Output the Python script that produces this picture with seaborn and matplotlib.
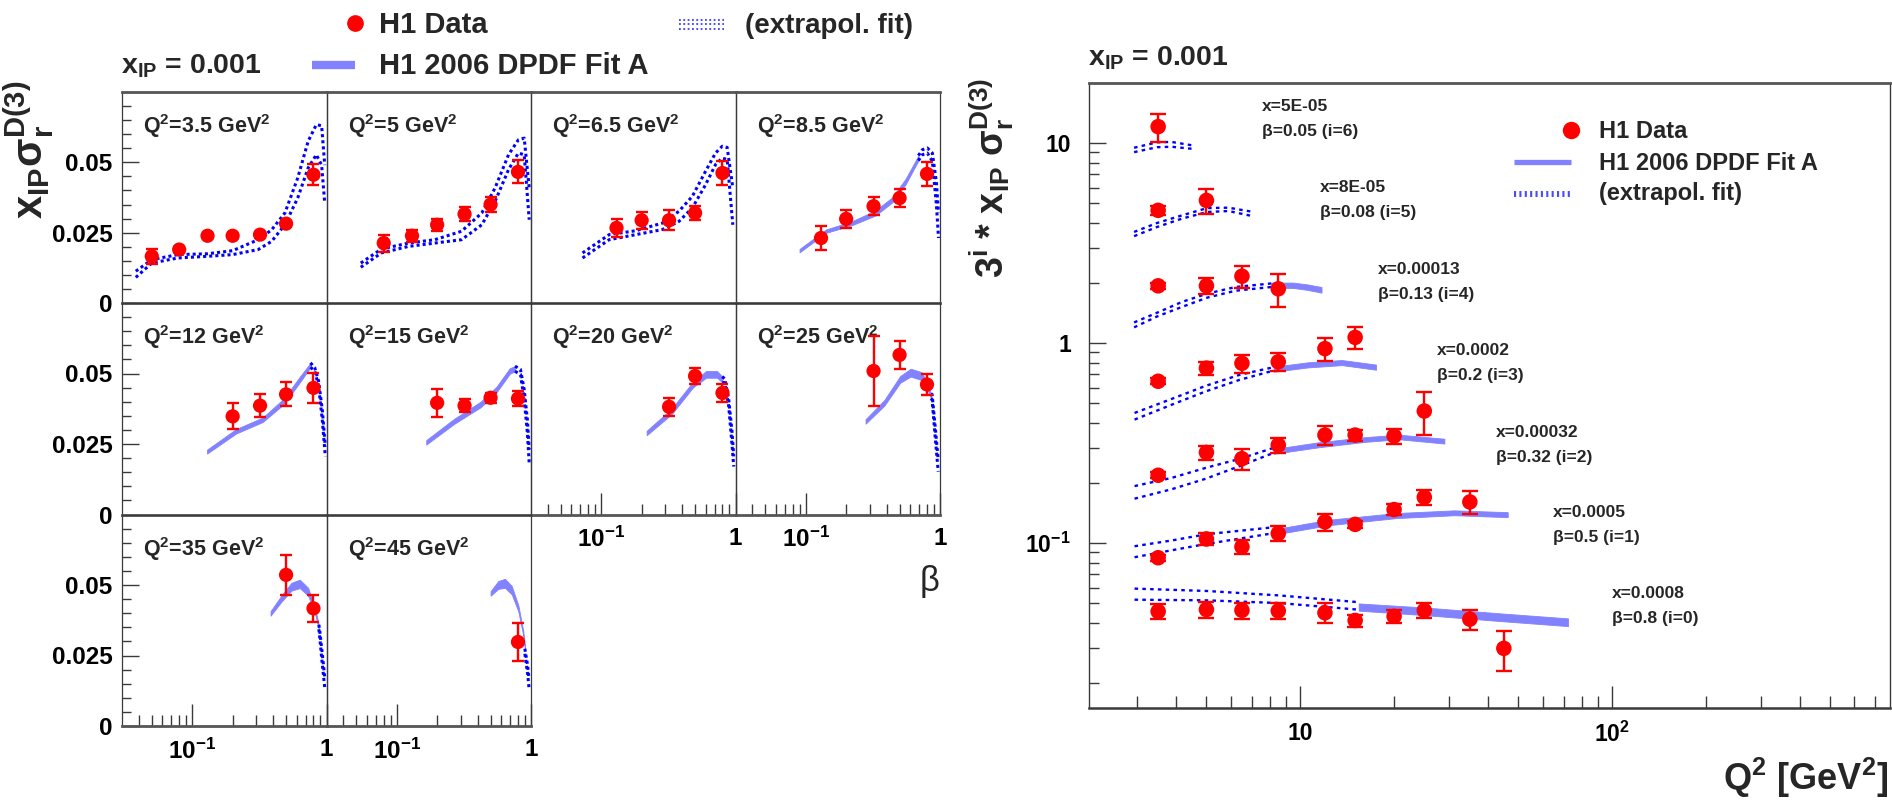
import matplotlib
matplotlib.use("Agg")
import numpy as np
import pandas as pd
import matplotlib.pyplot as plt
import seaborn as sns
from matplotlib.lines import Line2D
from matplotlib.ticker import FixedLocator, FixedFormatter, NullFormatter, NullLocator

# ---------------------------------------------------------------- data
# H1 reduced diffractive cross section x_IP * sigma_r^D(3) at x_IP = 0.001
q2_bins = [3.5, 5, 6.5, 8.5, 12, 15, 20, 25, 35, 45]
beta_bins = [0.05, 0.08, 0.13, 0.2, 0.32, 0.5, 0.8]
beta_power = [6, 5, 4, 3, 2, 1, 0]
x_bjorken = ["5E-05", "8E-05", "0.00013", "0.0002", "0.00032", "0.0005", "0.0008"]

pt_q2 = [3.5] * 7 + [5] * 6 + [6.5] * 5 + [8.5] * 5 + [12] * 4 + [15] * 4 + [20] * 3 + [25] * 3 + [35] * 2 + [45]
pt_beta = [0.05, 0.08, 0.13, 0.2, 0.32, 0.5, 0.8,
           0.08, 0.13, 0.2, 0.32, 0.5, 0.8,
           0.13, 0.2, 0.32, 0.5, 0.8,
           0.13, 0.2, 0.32, 0.5, 0.8,
           0.2, 0.32, 0.5, 0.8,
           0.2, 0.32, 0.5, 0.8,
           0.32, 0.5, 0.8,
           0.32, 0.5, 0.8,
           0.5, 0.8,
           0.8]
pt_val = [0.0166, 0.0190, 0.0239, 0.0239, 0.0243, 0.0282, 0.0456,
          0.0213, 0.0239, 0.0278, 0.0316, 0.0350, 0.0466,
          0.0267, 0.0294, 0.0294, 0.0320, 0.0462,
          0.0231, 0.0299, 0.0344, 0.0373, 0.0459,
          0.0348, 0.0386, 0.0426, 0.0449,
          0.0396, 0.0386, 0.0414, 0.0411,
          0.0382, 0.0491, 0.0431,
          0.0509, 0.0566, 0.0461,
          0.0536, 0.0417,
          0.0298]
pt_err = [0.0027, 0.0009, 0.0008, 0.0008, 0.0008, 0.0009, 0.0038,
          0.0030, 0.0022, 0.0022, 0.0025, 0.0025, 0.0041,
          0.0033, 0.0030, 0.0035, 0.0026, 0.0043,
          0.0044, 0.0031, 0.0031, 0.0033, 0.0043,
          0.0046, 0.0040, 0.0043, 0.0052,
          0.0049, 0.0024, 0.0018, 0.0028,
          0.0032, 0.0030, 0.0032,
          0.0125, 0.0050, 0.0039,
          0.0070, 0.0048,
          0.0068]

# H1 2006 DPDF Fit A, error band versus beta (region of validity)
fit_q2 = [8.5] * 7 + [12] * 6 + [15] * 6 + [20] * 6 + [25] * 7 + [35] * 7 + [45] * 7
fit_beta = [0.09, 0.141, 0.222, 0.331, 0.442, 0.555, 0.69,
            0.129, 0.212, 0.335, 0.483, 0.634, 0.76,
            0.166, 0.267, 0.421, 0.553, 0.695, 0.76,
            0.218, 0.335, 0.483, 0.605, 0.728, 0.796,
            0.279, 0.385, 0.505, 0.605, 0.728, 0.796, 0.857,
            0.383, 0.462, 0.548, 0.632, 0.73, 0.818, 0.877,
            0.5, 0.57, 0.64, 0.718, 0.805, 0.877, 0.9]
fit_lo = [0.0180, 0.0249, 0.0277, 0.0311, 0.0358, 0.0422, 0.0506,
          0.0216, 0.0287, 0.0328, 0.0392, 0.0469, 0.0522,
          0.0248, 0.0321, 0.0380, 0.0433, 0.0499, 0.0508,
          0.0281, 0.0356, 0.0451, 0.0485, 0.0485, 0.0469,
          0.0322, 0.0386, 0.0467, 0.0489, 0.0477, 0.0451, 0.0412,
          0.0391, 0.0441, 0.0480, 0.0489, 0.0462, 0.0401, 0.0343,
          0.0462, 0.0486, 0.0490, 0.0467, 0.0406, 0.0319, 0.0273]
fit_hi = [0.0192, 0.0261, 0.0291, 0.0329, 0.0376, 0.0442, 0.0524,
          0.0230, 0.0303, 0.0344, 0.0412, 0.0489, 0.0538,
          0.0264, 0.0339, 0.0400, 0.0453, 0.0519, 0.0526,
          0.0297, 0.0376, 0.0471, 0.0509, 0.0509, 0.0489,
          0.0338, 0.0406, 0.0491, 0.0517, 0.0505, 0.0471, 0.0428,
          0.0407, 0.0463, 0.0508, 0.0519, 0.0490, 0.0421, 0.0359,
          0.0478, 0.0514, 0.0522, 0.0497, 0.0428, 0.0335, 0.0287]

# extrapolation of the fit outside its region of validity, versus beta
ext_q2 = [3.5] * 13 + [5] * 11 + [6.5] * 11 + [8.5] * 6 + [12] * 5 + [15] * 5 + [20] * 5 + [25] * 4 + [35] * 4 + [45] * 3
ext_beta = [0.038, 0.05, 0.078, 0.13, 0.2, 0.31, 0.39, 0.49, 0.61, 0.73, 0.84, 0.92, 0.97,
            0.054, 0.077, 0.122, 0.192, 0.304, 0.43, 0.54, 0.68, 0.805, 0.89, 0.97,
            0.0726, 0.1146, 0.181, 0.285, 0.379, 0.477, 0.598, 0.71, 0.796, 0.867, 0.955,
            0.69, 0.74, 0.805, 0.877, 0.94, 0.975,
            0.76, 0.818, 0.873, 0.93, 0.98,
            0.76, 0.834, 0.89, 0.94, 0.97,
            0.796, 0.834, 0.89, 0.94, 0.97,
            0.857, 0.873, 0.92, 0.97,
            0.877, 0.89, 0.93, 0.97,
            0.9, 0.944, 0.966]
ext_lo = [0.0091, 0.0142, 0.0160, 0.0166, 0.0172, 0.0190, 0.0219, 0.0278, 0.0373, 0.0480, 0.0527, 0.0490, 0.0355,
          0.0127, 0.0178, 0.0201, 0.0213, 0.0225, 0.0278, 0.0361, 0.0474, 0.0533, 0.0527, 0.0296,
          0.0160, 0.0225, 0.0243, 0.0261, 0.0290, 0.0338, 0.0420, 0.0492, 0.0515, 0.0510, 0.0278,
          0.0506, 0.0527, 0.0533, 0.0504, 0.0350, 0.0231,
          0.0522, 0.0509, 0.0455, 0.0336, 0.0206,
          0.0508, 0.0497, 0.0408, 0.0289, 0.0182,
          0.0469, 0.0467, 0.0384, 0.0253, 0.0170,
          0.0412, 0.0408, 0.0277, 0.0152,
          0.0343, 0.0315, 0.0220, 0.0137,
          0.0256, 0.0185, 0.0137]
ext_hi = [0.0113, 0.0154, 0.0172, 0.0175, 0.0186, 0.0225, 0.0260, 0.0320, 0.0444, 0.0575, 0.0634, 0.0630, 0.0490,
          0.0142, 0.0192, 0.0213, 0.0225, 0.0255, 0.0320, 0.0409, 0.0527, 0.0580, 0.0586, 0.0409,
          0.0178, 0.0243, 0.0257, 0.0284, 0.0326, 0.0379, 0.0468, 0.0533, 0.0557, 0.0553, 0.0409,
          0.0524, 0.0545, 0.0551, 0.0533, 0.0430, 0.0320,
          0.0538, 0.0520, 0.0473, 0.0372, 0.0241,
          0.0526, 0.0515, 0.0443, 0.0336, 0.0230,
          0.0489, 0.0481, 0.0408, 0.0300, 0.0206,
          0.0428, 0.0426, 0.0313, 0.0194,
          0.0359, 0.0339, 0.0256, 0.0173,
          0.0274, 0.0214, 0.0167]

# fit band versus Q^2 (already multiplied by 3^i)
qfit_beta = [0.13] * 4 + [0.2] * 4 + [0.32] * 5 + [0.5] * 5 + [0.8] * 4
qfit_q2 = [8.07, 9.46, 10.5, 11.7,
           8.22, 10.6, 13.6, 17.5,
           8.22, 11.5, 16.1, 20.7, 29.0,
           8.15, 12.3, 20.3, 31.2, 46.3,
           15.4, 25.1, 43.0, 72.3]
qfit_lo = [1.89, 1.89, 1.85, 1.79,
           0.720, 0.757, 0.777, 0.737,
           0.280, 0.302, 0.321, 0.331, 0.315,
           0.110, 0.123, 0.1335, 0.138, 0.135,
           0.0460, 0.0437, 0.0409, 0.0385]
qfit_hi = [2.01, 2.01, 1.97, 1.91,
           0.763, 0.803, 0.824, 0.782,
           0.296, 0.320, 0.339, 0.349, 0.333,
           0.117, 0.131, 0.1415, 0.146, 0.143,
           0.0500, 0.0477, 0.0447, 0.0421]

# extrapolated fit versus Q^2 (already multiplied by 3^i)
qext_beta = [0.05] * 4 + [0.08] * 6 + [0.13] * 6 + [0.2] * 5 + [0.32] * 5 + [0.5] * 4 + [0.8] * 4
qext_q2 = [2.93, 3.47, 3.86, 4.52,
           2.93, 3.47, 4.18, 5.03, 5.89, 7.08,
           2.93, 3.47, 4.18, 5.03, 6.2, 8.07,
           2.94, 3.86, 4.97, 6.39, 8.22,
           2.94, 3.86, 4.97, 6.39, 8.22,
           2.94, 3.84, 5.02, 8.15,
           2.94, 5.02, 8.59, 15.2]
qext_lo = [9.02, 9.55, 9.60, 9.37,
           3.43, 3.81, 4.20, 4.53, 4.58, 4.31,
           1.20, 1.36, 1.52, 1.69, 1.83, 1.91,
           0.415, 0.492, 0.574, 0.656, 0.730,
           0.167, 0.186, 0.210, 0.243, 0.283,
           0.0851, 0.0920, 0.0993, 0.112,
           0.0522, 0.0518, 0.0502, 0.0466]
qext_hi = [9.49, 10.1, 10.15, 9.75,
           3.60, 3.99, 4.36, 4.74, 4.76, 4.53,
           1.27, 1.42, 1.61, 1.77, 1.91, 1.99,
           0.448, 0.526, 0.612, 0.695, 0.759,
           0.193, 0.212, 0.238, 0.264, 0.300,
           0.0966, 0.103, 0.111, 0.120,
           0.0593, 0.0577, 0.0548, 0.0508]

points = pd.DataFrame({"q2": pt_q2, "beta": pt_beta, "val": pt_val, "err": pt_err})
fit_band = pd.DataFrame({"q2": fit_q2, "beta": fit_beta, "lo": fit_lo, "hi": fit_hi})
ext_band = pd.DataFrame({"q2": ext_q2, "beta": ext_beta, "lo": ext_lo, "hi": ext_hi})
qfit_band = pd.DataFrame({"beta": qfit_beta, "q2": qfit_q2, "lo": qfit_lo, "hi": qfit_hi})
qext_band = pd.DataFrame({"beta": qext_beta, "q2": qext_q2, "lo": qext_lo, "hi": qext_hi})

# ---------------------------------------------------------------- style
sns.set_theme(style="white")
plt.rcParams["font.family"] = ["Liberation Sans", "DejaVu Sans"]
plt.rcParams["font.weight"] = "bold"
plt.rcParams["mathtext.default"] = "regular"

RED = "#ff0000"
BAND = "#8282ff"
DOT = "#0000ff"
FRAME = "#3a3a3a"

W, H = 1892, 800
fig = plt.figure(figsize=(W / 100, H / 100), dpi=100, facecolor="white")


def pix_box(x0, y0, x1, y1):
    return [x0 / W, 1 - y1 / H, (x1 - x0) / W, (y1 - y0) / H]


def ptext(x, y, s, **kw):
    fig.text(x / W, 1 - y / H, s, **kw)


def pline(xs, ys, **kw):
    fig.add_artist(Line2D([x / W for x in xs], [1 - y / H for y in ys],
                          transform=fig.transFigure, **kw))


def dotted_pair(ax, df, x, lw, dash):
    for edge in ("lo", "hi"):
        sns.lineplot(data=df, x=x, y=edge, ax=ax, color=DOT, lw=lw,
                     linestyle=(0, dash), estimator=None, sort=False, zorder=3)


# ---------------------------------------------------------------- beta panels
col_edges = [122, 326.5, 531, 735.5, 940]
row_edges = [92, 303, 514.5, 726]
beta_minor = [0.04, 0.05, 0.06, 0.07, 0.08, 0.09, 0.2, 0.3, 0.4, 0.5, 0.6, 0.7, 0.8, 0.9]

for k, q2 in enumerate(q2_bins):
    r, c = divmod(k, 4)
    ax = fig.add_axes(pix_box(col_edges[c], row_edges[r], col_edges[c + 1], row_edges[r + 1]))
    ax.set_facecolor("none")
    ax.set_xscale("log")
    ax.set_xlim(0.03, 1)
    ax.set_ylim(0, 0.075)

    fb = fit_band[fit_band.q2 == q2]
    if len(fb):
        ax.fill_between(fb.beta, fb.lo, fb.hi, color=BAND, lw=0.6, edgecolor=BAND, zorder=2)
    eb = ext_band[ext_band.q2 == q2]
    dotted_pair(ax, eb, "beta", 2.2, (1.0, 1.0))

    pts = points[points.q2 == q2]
    ax.errorbar(pts.beta, pts.val, yerr=pts.err, fmt="none", ecolor=RED,
                elinewidth=1.7, capsize=4.2, capthick=1.7, zorder=4)
    sns.scatterplot(data=pts, x="beta", y="val", ax=ax, color=RED, s=105,
                    edgecolor="none", zorder=5, legend=False)
    ax.set_xlabel("")
    ax.set_ylabel("")
    ax.text(0.105, 0.805, rf"Q$^{{2}}$={q2:g} GeV$^{{2}}$", transform=ax.transAxes,
            fontsize=15.5, fontweight="bold", va="baseline", ha="left", zorder=1)

    ax.tick_params(which="both", direction="in", top=False, right=False,
                   left=False, bottom=False, labelleft=False, labelbottom=False)
    ax.xaxis.set_minor_formatter(NullFormatter())
    if c == 0:
        ax.yaxis.set_major_locator(FixedLocator([0, 0.025, 0.05]))
        ax.yaxis.set_major_formatter(FixedFormatter(["0", "0.025", "0.05"]))
        ax.yaxis.set_minor_locator(FixedLocator(list(np.arange(1, 15) * 0.005)))
        ax.tick_params(axis="y", which="both", left=True, labelleft=True, colors=FRAME)
        ax.tick_params(axis="y", which="major", length=12, width=1.0, labelsize=17.5,
                       pad=7, labelcolor="black")
        ax.tick_params(axis="y", which="minor", length=6.5, width=1.0)
    else:
        ax.yaxis.set_major_locator(NullLocator())
        ax.yaxis.set_minor_locator(NullLocator())

    bottom_most = (r == 2) or (r == 1 and c >= 2)
    if bottom_most:
        ax.xaxis.set_major_locator(FixedLocator([0.1, 1]))
        ax.xaxis.set_major_formatter(FixedFormatter(["$10^{-1}$", "1"]))
        ax.xaxis.set_minor_locator(FixedLocator(beta_minor))
        ax.tick_params(axis="x", which="both", bottom=True, labelbottom=True, colors=FRAME)
        ax.tick_params(axis="x", which="major", length=16, width=1.0, labelsize=17.5,
                       pad=9, labelcolor="black")
        ax.tick_params(axis="x", which="minor", length=8, width=1.0)
    else:
        ax.xaxis.set_major_locator(NullLocator())
        ax.xaxis.set_minor_locator(NullLocator())

    for sp in ax.spines.values():
        sp.set_color(FRAME)
        sp.set_linewidth(0.9)
    ax.spines["bottom"].set_linewidth(2.0)
    ax.spines["bottom"].set_color("#555555")
    if r == 0:
        ax.spines["top"].set_linewidth(2.0)
        ax.spines["top"].set_color("#555555")

ptext(29, 150, r"x$_{IP}\sigma_{r}^{D(3)}$", rotation=90, fontsize=30,
      fontweight="bold", ha="center", va="center")
ptext(930, 582, "β", fontsize=25, fontweight="normal", ha="center", va="center")

# legend and title above the beta panels
pline([355], [23], marker="o", ms=11, color=RED, linestyle="none")
ptext(379, 33, "H1 Data", fontsize=21, fontweight="bold", va="baseline")
for yy in (19.5, 24, 28.5):
    pline([679, 724], [yy, yy], color="#3c3cff", lw=1.3, linestyle=(0, (1, 1.4)))
ptext(745, 33, "(extrapol. fit)", fontsize=20, fontweight="bold", va="baseline")
ptext(121, 74, r"x$_{IP}$ = 0.001", fontsize=20.5, fontweight="bold", va="baseline")
pline([312, 355], [65, 65], color=BAND, lw=6, solid_capstyle="butt")
ptext(379, 74, "H1 2006 DPDF Fit A", fontsize=21, fontweight="bold", va="baseline")

# ---------------------------------------------------------------- Q^2 panel
axr = fig.add_axes(pix_box(1089, 83, 1890, 708))
axr.set_facecolor("none")
axr.set_xscale("log")
axr.set_yscale("log")
axr.set_xlim(2.1, 780)
axr.set_ylim(0.015, 20)

for b, p in zip(beta_bins, beta_power):
    fb = qfit_band[qfit_band.beta == b]
    if len(fb):
        axr.fill_between(fb.q2, fb.lo, fb.hi, color=BAND, lw=0.6, edgecolor=BAND, zorder=2)
    eb = qext_band[qext_band.beta == b]
    dotted_pair(axr, eb, "q2", 1.7, (1.5, 1.8))
    pts = points[points.beta == b].assign(scaled=lambda d: d.val * 3 ** p,
                                          scaled_err=lambda d: d.err * 3 ** p)
    axr.errorbar(pts.q2, pts.scaled, yerr=pts.scaled_err, fmt="none", ecolor=RED,
                 elinewidth=1.7, capsize=5.5, capthick=1.7, zorder=4)
    sns.scatterplot(data=pts, x="q2", y="scaled", ax=axr, color=RED, s=125,
                    edgecolor="none", zorder=5, legend=False)
axr.set_xlabel("")
axr.set_ylabel("")

q2_minor = [3, 4, 5, 6, 7, 8, 9, 20, 30, 40, 50, 60, 70, 80, 90, 200, 300, 400, 500, 600, 700]
y_minor = [0.02, 0.03, 0.04, 0.05, 0.06, 0.07, 0.08, 0.09,
           0.2, 0.3, 0.4, 0.5, 0.6, 0.7, 0.8, 0.9, 2, 3, 4, 5, 6, 7, 8, 9]
axr.xaxis.set_major_locator(FixedLocator([10, 100]))
axr.xaxis.set_major_formatter(FixedFormatter(["10", "$10^{2}$"]))
axr.xaxis.set_minor_locator(FixedLocator(q2_minor))
axr.xaxis.set_minor_formatter(NullFormatter())
axr.yaxis.set_major_locator(FixedLocator([0.1, 1, 10]))
axr.yaxis.set_major_formatter(FixedFormatter(["$10^{-1}$", "1", "10"]))
axr.yaxis.set_minor_locator(FixedLocator(y_minor))
axr.yaxis.set_minor_formatter(NullFormatter())
axr.tick_params(which="both", direction="in", top=False, right=False,
                bottom=True, left=True, colors=FRAME)
axr.tick_params(axis="x", which="major", length=16, width=1.0, labelsize=16.5, pad=10, labelcolor="black")
axr.tick_params(axis="x", which="minor", length=8.5, width=1.0)
axr.tick_params(axis="y", which="major", length=12, width=1.0, labelsize=16.5, pad=13, labelcolor="black")
axr.tick_params(axis="y", which="minor", length=7, width=1.0)
for sp in axr.spines.values():
    sp.set_color(FRAME)
    sp.set_linewidth(1.0)
axr.spines["top"].set_linewidth(2.0)
axr.spines["top"].set_color("#555555")
axr.spines["bottom"].set_linewidth(1.8)

ann_pos = [(1262, 111), (1320, 192), (1378, 274), (1437, 355), (1496, 437), (1553, 517), (1612, 598)]
for (ax_, ay_), xb, b, p in zip(ann_pos, x_bjorken, beta_bins, beta_power):
    ptext(ax_, ay_, f"x={xb}", fontsize=12.5, fontweight="bold", va="baseline")
    ptext(ax_, ay_ + 25, f"β={b:g} (i={p})", fontsize=12.5, fontweight="bold", va="baseline")

ptext(1088, 65, r"x$_{IP}$ = 0.001", fontsize=20.5, fontweight="bold", va="baseline")
ptext(992, 178, r"3$^{i}$ * x$_{IP}$ $\sigma_{r}^{D(3)}$", rotation=90, fontsize=27,
      fontweight="bold", ha="center", va="center")
ptext(1888, 790, r"Q$^{2}$ [GeV$^{2}$]", fontsize=26, fontweight="bold", ha="right", va="baseline")

# legend inside the Q^2 panel
pline([1571], [130], marker="o", ms=11.5, color=RED, linestyle="none")
ptext(1599, 138, "H1 Data", fontsize=17, fontweight="bold", va="baseline")
pline([1514, 1571], [162, 162], color=BAND, lw=3.8, solid_capstyle="butt")
ptext(1599, 170, "H1 2006 DPDF Fit A", fontsize=17, fontweight="bold", va="baseline")
pline([1514, 1571], [194, 194], color="#4a4aff", lw=4.3, linestyle=(0, (0.35, 0.55)))
ptext(1599, 200, "(extrapol. fit)", fontsize=17, fontweight="bold", va="baseline")

fig.savefig("out.png", dpi=100, facecolor="white")
